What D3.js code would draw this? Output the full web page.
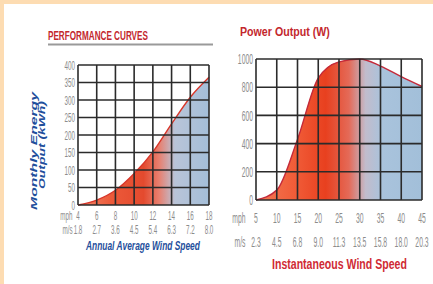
<!DOCTYPE html>
<html>
<head>
<meta charset="utf-8">
<script src="https://cdn.jsdelivr.net/npm/d3@7"></script>
<style>
  body { margin: 0; background: #fddcb2; }
  svg { display: block; }
  text { font-family: "Liberation Sans", Arial, sans-serif; }
</style>
</head>
<body>
<svg id="chart" width="433" height="284"></svg>
<script>
// ----- data -----
const energyMph = [4, 6, 8, 10, 12, 14, 16, 18];
const energyMs = ["1.8", "2.7", "3.6", "4.5", "5.4", "6.3", "7.2", "8.0"];
const energyKwh = [0, 14, 42, 90, 152, 232, 308, 365];
const energyTicks = [0, 50, 100, 150, 200, 250, 300, 350, 400];

const powerMph = [5, 10, 15, 20, 25, 30, 35, 40, 45];
const powerMs = ["2.3", "4.5", "6.8", "9.0", "11.3", "13.5", "15.8", "18.0", "20.3"];
const powerWatts = [0, 70, 430, 865, 980, 1000, 950, 875, 805];
const powerTicks = [0, 200, 400, 600, 800, 1000];

const svg = d3.select("svg#chart");

// white card over the peach border
svg.append("rect").attr("x", 4).attr("y", 4).attr("width", 429).attr("height", 280).attr("fill", "#fff");

const defs = svg.append("defs");

function gradient(id, x1, x2, stops) {
  const g = defs.append("linearGradient")
    .attr("id", id)
    .attr("gradientUnits", "userSpaceOnUse")
    .attr("x1", x1).attr("x2", x2).attr("y1", 0).attr("y2", 0);
  stops.forEach(s => g.append("stop").attr("offset", s[0]).attr("stop-color", s[1]));
}

const gridColor = "#2b2b2b";
const tickColor = "#8c8c8c";

// narrow tick text: squeeze horizontally
const squeeze = (x, y, sx) => `translate(${x},${y}) scale(${sx},1)`;

// squeeze a title so it spans a given width
function fitText(str, x, y, width, rot, attrs) {
  const t = svg.append("text").text(str);
  Object.entries(attrs).forEach(([k, v]) => t.attr(k, v));
  const w = t.node().getComputedTextLength();
  t.attr("transform", `translate(${x},${y}) rotate(${rot}) scale(${width / w},1)`);
  return t;
}

function drawPanel(opt) {
  const x = d3.scaleLinear().domain(d3.extent(opt.mph)).range(opt.xRange);
  const y = d3.scaleLinear().domain([0, d3.max(opt.yTicks)]).range(opt.yRange);
  const g = svg.append("g");

  gradient(opt.id, opt.xRange[0], opt.xRange[1], opt.stops);

  const area = d3.area()
    .x((d, i) => x(opt.mph[i]))
    .y0(y(0))
    .y1(d => y(d))
    .curve(d3.curveMonotoneX);
  const line = d3.line()
    .x((d, i) => x(opt.mph[i]))
    .y(d => y(d))
    .curve(d3.curveMonotoneX);

  g.append("path").datum(opt.values).attr("d", area).attr("fill", `url(#${opt.id})`);
  g.append("path").datum(opt.values).attr("d", line)
    .attr("fill", "none").attr("stroke", opt.lineColor).attr("stroke-width", 1.4);

  // grid
  g.selectAll("line.h").data(opt.yTicks).join("line")
    .attr("x1", opt.xRange[0]).attr("x2", opt.xRange[1])
    .attr("y1", d => y(d)).attr("y2", d => y(d))
    .attr("stroke", gridColor).attr("stroke-width", 1.6);
  g.selectAll("line.v").data(opt.mph).join("line")
    .attr("x1", d => x(d)).attr("x2", d => x(d))
    .attr("y1", opt.yRange[0]).attr("y2", opt.yRange[1])
    .attr("stroke", gridColor).attr("stroke-width", 1.6);

  // y tick labels
  g.selectAll("text.yt").data(opt.yTicks).join("text")
    .attr("transform", d => squeeze(opt.xRange[0] - 3, y(d) + opt.fs * 0.36, opt.sx))
    .attr("text-anchor", "end").attr("font-size", opt.fs).attr("fill", tickColor)
    .text(d => d);

  // x tick labels, two rows
  g.selectAll("text.mph").data(opt.mph).join("text")
    .attr("transform", d => squeeze(x(d), opt.rowY[0], opt.sx))
    .attr("text-anchor", "middle").attr("font-size", opt.fs).attr("fill", tickColor)
    .text(d => d);
  g.selectAll("text.ms").data(opt.ms).join("text")
    .attr("transform", (d, i) => squeeze(x(opt.mph[i]), opt.rowY[1], opt.sx))
    .attr("text-anchor", "middle").attr("font-size", opt.fs).attr("fill", tickColor)
    .text(d => d);
  g.append("text").attr("transform", squeeze(opt.unitX, opt.rowY[0], opt.sx))
    .attr("text-anchor", "end").attr("font-size", opt.fs).attr("fill", tickColor).text("mph");
  g.append("text").attr("transform", squeeze(opt.unitX, opt.rowY[1], opt.sx))
    .attr("text-anchor", "end").attr("font-size", opt.fs).attr("fill", tickColor).text("m/s");

  return { x, y };
}

drawPanel({
  id: "gradEnergy",
  mph: energyMph, ms: energyMs, values: energyKwh, yTicks: energyTicks,
  xRange: [78, 209], yRange: [205, 65],
  rowY: [219.5, 233.5], unitX: 72.5, fs: 13, sx: 0.48,
  lineColor: "#d8362a",
  stops: [[0, "#f38a6a"], [0.25, "#ec5a3a"], [0.5, "#e44a2e"], [0.62, "#e88070"],
          [0.74, "#b9c4d8"], [1, "#a4bed8"]]
});

drawPanel({
  id: "gradPower",
  mph: powerMph, ms: powerMs, values: powerWatts, yTicks: powerTicks,
  xRange: [256, 422], yRange: [200, 59],
  rowY: [222.5, 246.5], unitX: 245.5, fs: 14.5, sx: 0.47,
  lineColor: "#c42a3a",
  stops: [[0, "#f47a55"], [0.25, "#f05a36"], [0.42, "#e8401f"], [0.56, "#e46a58"],
          [0.66, "#c2bccc"], [0.76, "#a9c3dc"], [1, "#a2bfd9"]]
});

// titles
fitText("PERFORMANCE CURVES", 48, 39.5, 100, 0,
  { "font-size": 13, "font-weight": "bold", fill: "#c3272d" });
svg.append("line").attr("x1", 48).attr("x2", 213).attr("y1", 44.5).attr("y2", 44.5)
  .attr("stroke", "#9a9a9a").attr("stroke-width", 2);

fitText("Power Output (W)", 240, 36, 90, 0,
  { "font-size": 12, "font-weight": "bold", fill: "#c3272d" });

// axis titles
const blueTitle = { "font-size": 9, "font-weight": "bold", "font-style": "italic",
  fill: "#1f4f9c", "text-anchor": "middle" };
fitText("Monthly Energy", 37, 151, 118, -90, blueTitle);
fitText("Output (kWh)", 45, 145, 88, -90, blueTitle);

fitText("Annual Average Wind Speed", 86, 250, 114, 0,
  { "font-size": 13, "font-weight": "bold", "font-style": "italic", fill: "#1f4f9c" });

fitText("Instantaneous Wind Speed", 272, 269, 135, 0,
  { "font-size": 14, "font-weight": "bold", fill: "#d02a34" });
</script>
</body>
</html>
